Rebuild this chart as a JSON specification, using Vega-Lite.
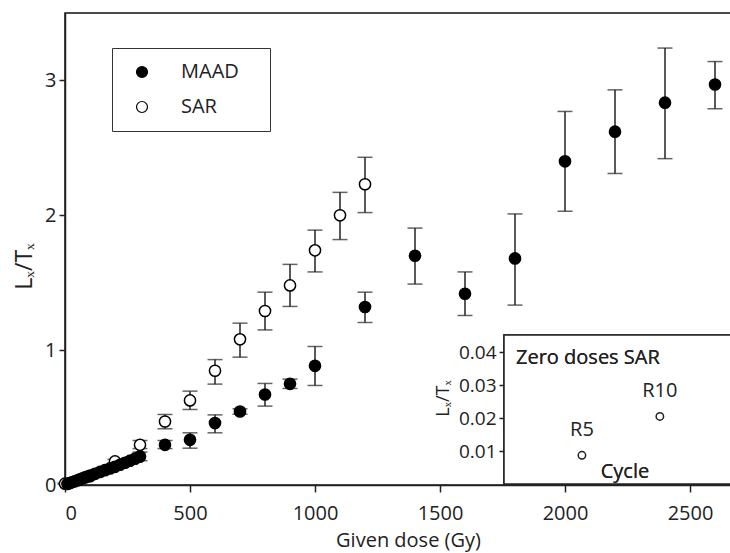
{
  "$schema": "https://vega.github.io/schema/vega-lite/v6.json",
  "width": 666,
  "height": 472,
  "autosize": {"type": "none"},
  "padding": {"left": 65, "top": 13, "right": 0, "bottom": 68},
  "background": "white",
  "config": {
    "font": "Open Sans",
    "view": {"stroke": "#111", "strokeWidth": 1.5},
    "axis": {"domainColor": "#222", "domainWidth": 1.5, "tickColor": "#222", "tickWidth": 1.5, "grid": false, "labelColor": "#222", "titleColor": "#222", "labelFont": "Open Sans", "titleFont": "Open Sans", "titleFontWeight": "normal"}
  },
  "datasets": {
    "main": [
      {"dose": 0, "ratio": 0.01, "lo": 0.005, "hi": 0.015, "method": "SAR"},
      {"dose": 100, "ratio": 0.065, "lo": 0.055, "hi": 0.075, "method": "SAR"},
      {"dose": 200, "ratio": 0.175, "lo": 0.16, "hi": 0.19, "method": "SAR"},
      {"dose": 300, "ratio": 0.298, "lo": 0.27, "hi": 0.33, "method": "SAR"},
      {"dose": 400, "ratio": 0.471, "lo": 0.417, "hi": 0.523, "method": "SAR"},
      {"dose": 500, "ratio": 0.627, "lo": 0.56, "hi": 0.696, "method": "SAR"},
      {"dose": 600, "ratio": 0.847, "lo": 0.748, "hi": 0.93, "method": "SAR"},
      {"dose": 700, "ratio": 1.08, "lo": 0.948, "hi": 1.2, "method": "SAR"},
      {"dose": 800, "ratio": 1.29, "lo": 1.15, "hi": 1.43, "method": "SAR"},
      {"dose": 900, "ratio": 1.48, "lo": 1.324, "hi": 1.636, "method": "SAR"},
      {"dose": 1000, "ratio": 1.74, "lo": 1.58, "hi": 1.89, "method": "SAR"},
      {"dose": 1100, "ratio": 2.0, "lo": 1.82, "hi": 2.17, "method": "SAR"},
      {"dose": 1200, "ratio": 2.23, "lo": 2.02, "hi": 2.43, "method": "SAR"},
      {"dose": 10, "ratio": 0.008, "lo": 0.003, "hi": 0.013, "method": "MAAD"},
      {"dose": 20, "ratio": 0.015, "lo": 0.008, "hi": 0.022, "method": "MAAD"},
      {"dose": 30, "ratio": 0.022, "lo": 0.014, "hi": 0.03, "method": "MAAD"},
      {"dose": 40, "ratio": 0.028, "lo": 0.02, "hi": 0.036, "method": "MAAD"},
      {"dose": 50, "ratio": 0.035, "lo": 0.026, "hi": 0.044, "method": "MAAD"},
      {"dose": 60, "ratio": 0.042, "lo": 0.032, "hi": 0.052, "method": "MAAD"},
      {"dose": 70, "ratio": 0.049, "lo": 0.039, "hi": 0.059, "method": "MAAD"},
      {"dose": 80, "ratio": 0.056, "lo": 0.045, "hi": 0.067, "method": "MAAD"},
      {"dose": 90, "ratio": 0.063, "lo": 0.052, "hi": 0.074, "method": "MAAD"},
      {"dose": 100, "ratio": 0.07, "lo": 0.058, "hi": 0.082, "method": "MAAD"},
      {"dose": 120, "ratio": 0.083, "lo": 0.07, "hi": 0.096, "method": "MAAD"},
      {"dose": 140, "ratio": 0.097, "lo": 0.083, "hi": 0.111, "method": "MAAD"},
      {"dose": 160, "ratio": 0.11, "lo": 0.095, "hi": 0.125, "method": "MAAD"},
      {"dose": 180, "ratio": 0.123, "lo": 0.107, "hi": 0.139, "method": "MAAD"},
      {"dose": 200, "ratio": 0.135, "lo": 0.118, "hi": 0.152, "method": "MAAD"},
      {"dose": 220, "ratio": 0.15, "lo": 0.132, "hi": 0.168, "method": "MAAD"},
      {"dose": 240, "ratio": 0.165, "lo": 0.145, "hi": 0.185, "method": "MAAD"},
      {"dose": 260, "ratio": 0.18, "lo": 0.158, "hi": 0.202, "method": "MAAD"},
      {"dose": 280, "ratio": 0.195, "lo": 0.17, "hi": 0.22, "method": "MAAD"},
      {"dose": 300, "ratio": 0.212, "lo": 0.18, "hi": 0.244, "method": "MAAD"},
      {"dose": 400, "ratio": 0.298, "lo": 0.27, "hi": 0.33, "method": "MAAD"},
      {"dose": 500, "ratio": 0.335, "lo": 0.273, "hi": 0.387, "method": "MAAD"},
      {"dose": 600, "ratio": 0.459, "lo": 0.387, "hi": 0.52, "method": "MAAD"},
      {"dose": 700, "ratio": 0.545, "lo": 0.525, "hi": 0.565, "method": "MAAD"},
      {"dose": 800, "ratio": 0.671, "lo": 0.585, "hi": 0.753, "method": "MAAD"},
      {"dose": 900, "ratio": 0.75, "lo": 0.716, "hi": 0.785, "method": "MAAD"},
      {"dose": 1000, "ratio": 0.884, "lo": 0.738, "hi": 1.027, "method": "MAAD"},
      {"dose": 1200, "ratio": 1.32, "lo": 1.205, "hi": 1.43, "method": "MAAD"},
      {"dose": 1400, "ratio": 1.7, "lo": 1.49, "hi": 1.905, "method": "MAAD"},
      {"dose": 1600, "ratio": 1.418, "lo": 1.257, "hi": 1.58, "method": "MAAD"},
      {"dose": 1800, "ratio": 1.68, "lo": 1.334, "hi": 2.01, "method": "MAAD"},
      {"dose": 2000, "ratio": 2.4, "lo": 2.03, "hi": 2.77, "method": "MAAD"},
      {"dose": 2200, "ratio": 2.62, "lo": 2.31, "hi": 2.93, "method": "MAAD"},
      {"dose": 2400, "ratio": 2.835, "lo": 2.42, "hi": 3.24, "method": "MAAD"},
      {"dose": 2600, "ratio": 2.97, "lo": 2.79, "hi": 3.14, "method": "MAAD"}
    ],
    "inset": [
      {"cycle": 5, "ratio": 0.0087, "lo": 0.0075, "hi": 0.0099, "label": "R5"},
      {"cycle": 10, "ratio": 0.0205, "lo": 0.0195, "hi": 0.0215, "label": "R10"}
    ]
  },
  "layer": [
    {
      "data": {"name": "main"},
      "encoding": {
        "x": {"field": "dose", "type": "quantitative",
          "scale": {"domain": [0, 2664], "nice": false, "zero": false},
          "axis": {"values": [0, 500, 1000, 1500, 2000, 2500], "format": "d", "title": "Given dose (Gy)", "labelFontSize": 20, "titleFontSize": 20, "tickSize": 7, "labelPadding": 11, "titleX": 343, "titleY": 55, "titleBaseline": "middle"}},
        "y": {"field": "ratio", "type": "quantitative",
          "scale": {"domain": [0, 3.5], "nice": false},
          "axis": {"values": [0, 1, 2, 3], "title": "Lₓ/Tₓ", "labelFontSize": 20, "titleFontSize": 23, "tickSize": 6, "labelPadding": 3, "titleX": -41, "titleY": 253, "titleBaseline": "middle"}}
      },
      "layer": [
        {"mark": {"type": "rule", "color": "#222", "strokeWidth": 1.5},
         "encoding": {"y": {"field": "lo", "type": "quantitative"}, "y2": {"field": "hi"}}},
        {"mark": {"type": "tick", "orient": "horizontal", "color": "#222", "size": 15, "thickness": 1.5},
         "encoding": {"y": {"field": "lo", "type": "quantitative"}}},
        {"mark": {"type": "tick", "orient": "horizontal", "color": "#222", "size": 15, "thickness": 1.5},
         "encoding": {"y": {"field": "hi", "type": "quantitative"}}},
        {"mark": {"type": "point", "shape": "circle", "filled": false, "size": 125, "stroke": "black", "strokeWidth": 1.5, "opacity": 1},
         "encoding": {
           "fill": {"field": "method", "type": "nominal",
             "scale": {"domain": ["MAAD", "SAR"], "range": ["black", "white"]},
             "legend": {"title": "\u00a0\u00a0", "titleOrient": "right", "titleFontSize": 20, "titlePadding": 17, "orient": "none", "legendX": 47, "legendY": 35, "strokeColor": "#333", "padding": 14, "labelFontSize": 20, "labelOffset": 29, "symbolOffset": 6, "symbolSize": 120, "symbolStrokeColor": "black", "symbolStrokeWidth": 1.2, "rowPadding": 15, "labelColor": "#222", "symbolType": "circle"}}
         }}
      ]
    },
    {
      "data": {"name": "inset"},
      "encoding": {
        "x": {"field": "cycle", "type": "quantitative",
          "scale": {"domain": [0, 14.5], "range": [439, 665], "nice": false, "zero": false},
          "axis": null},
        "y": {"field": "ratio", "type": "quantitative",
          "scale": {"domain": [0, 0.0452], "range": [471, 322], "nice": false},
          "axis": {"orient": "left", "offset": -439, "values": [0.01, 0.02, 0.03, 0.04], "format": ".2f", "labelFontSize": 19, "tickSize": 5, "labelPadding": 3, "title": "Lₓ/Tₓ", "titleFontSize": 18, "titleX": -61, "titleY": 385, "titleBaseline": "middle"}}
      },
      "layer": [
        {"mark": {"type": "rect", "fill": "white", "stroke": "#222", "strokeWidth": 1.5},
         "encoding": {"x": {"datum": 0}, "x2": {"datum": 14.65}, "y": {"datum": 0}, "y2": {"datum": 0.0452}}},
        {"mark": {"type": "rule", "color": "#444", "strokeWidth": 1.2},
         "encoding": {"y": {"field": "lo", "type": "quantitative"}, "y2": {"field": "hi"}}},
        {"mark": {"type": "point", "shape": "circle", "filled": false, "size": 55, "stroke": "#222", "fill": "white", "strokeWidth": 1.5, "opacity": 1},
         "encoding": {}},
        {"mark": {"type": "text", "fontSize": 20, "dy": -25, "color": "#222", "align": "center", "baseline": "middle"},
         "encoding": {"text": {"field": "label"}}},
        {"mark": {"type": "text", "fontSize": 20, "color": "#222", "align": "center", "baseline": "middle"},
         "encoding": {"x": {"datum": 7.76}, "y": {"datum": 0.0035}, "text": {"value": "Cycle"}}},
        {"mark": {"type": "text", "fontSize": 20, "color": "#222", "align": "left", "baseline": "middle"},
         "encoding": {"x": {"datum": 0.77}, "y": {"datum": 0.0382}, "text": {"value": "Zero doses SAR"}}}
      ]
    }
  ],
  "resolve": {"scale": {"x": "independent", "y": "independent"}}
}
